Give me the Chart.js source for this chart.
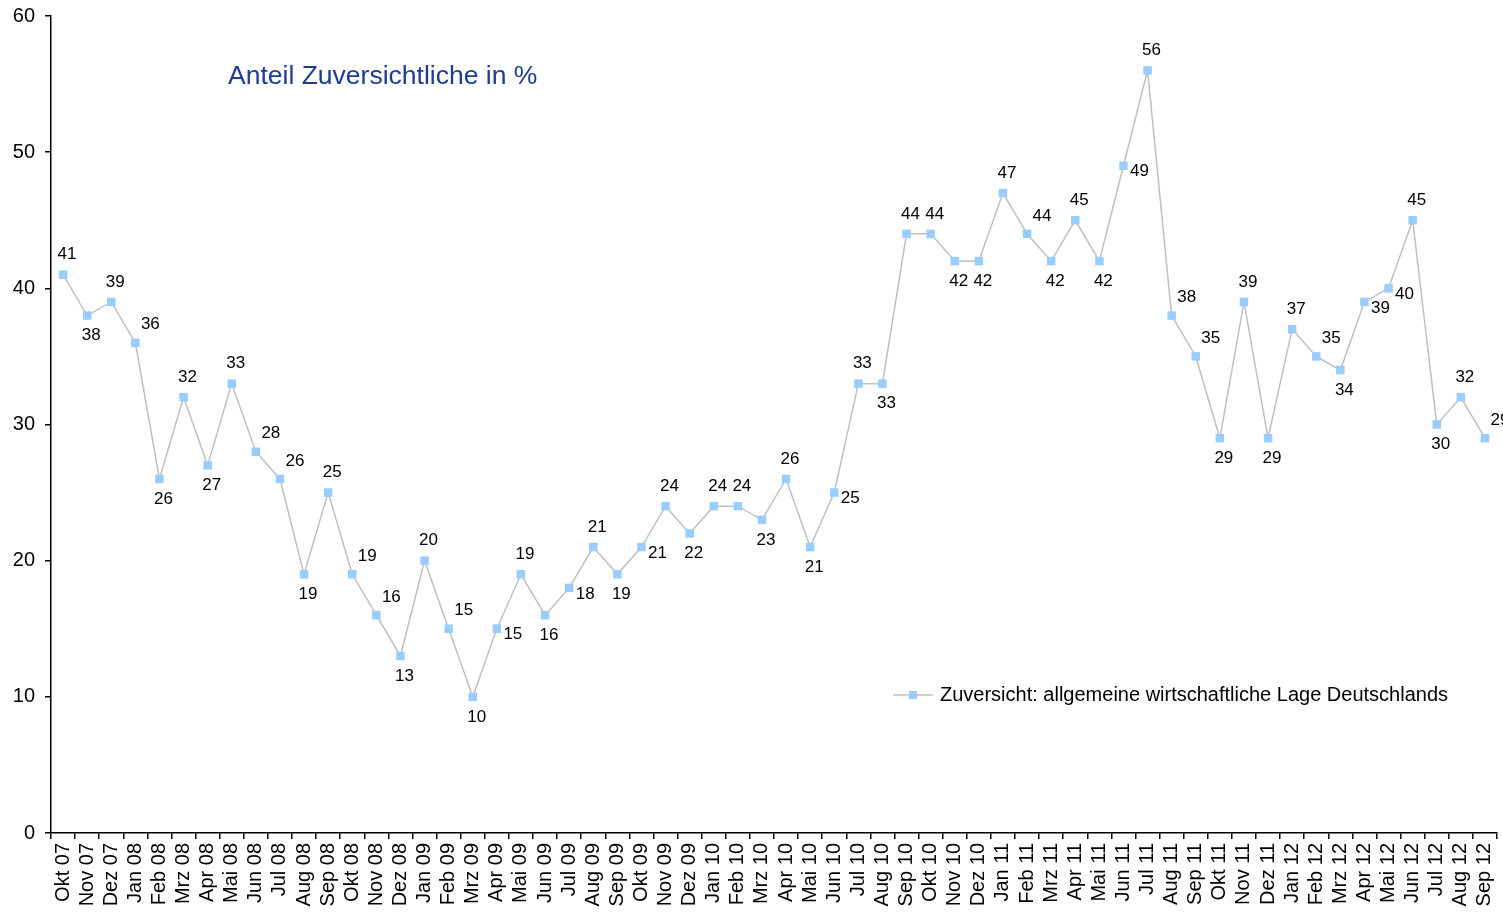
<!DOCTYPE html>
<html>
<head>
<meta charset="utf-8">
<script src="https://cdn.jsdelivr.net/npm/chart.js@4/dist/chart.umd.min.js"></script>
<style>
    html, body { margin: 0; padding: 0; background: #fff; }
    #wrap { width: 1503px; height: 916px; }
</style>
</head>
<body>
<div id="wrap"><canvas id="chart"></canvas></div>
<script>
// Monate Okt 07 - Sep 12
const months = [
    'Okt 07', 'Nov 07', 'Dez 07',
    'Jan 08', 'Feb 08', 'Mrz 08', 'Apr 08', 'Mai 08', 'Jun 08', 'Jul 08', 'Aug 08', 'Sep 08', 'Okt 08', 'Nov 08', 'Dez 08',
    'Jan 09', 'Feb 09', 'Mrz 09', 'Apr 09', 'Mai 09', 'Jun 09', 'Jul 09', 'Aug 09', 'Sep 09', 'Okt 09', 'Nov 09', 'Dez 09',
    'Jan 10', 'Feb 10', 'Mrz 10', 'Apr 10', 'Mai 10', 'Jun 10', 'Jul 10', 'Aug 10', 'Sep 10', 'Okt 10', 'Nov 10', 'Dez 10',
    'Jan 11', 'Feb 11', 'Mrz 11', 'Apr 11', 'Mai 11', 'Jun 11', 'Jul 11', 'Aug 11', 'Sep 11', 'Okt 11', 'Nov 11', 'Dez 11',
    'Jan 12', 'Feb 12', 'Mrz 12', 'Apr 12', 'Mai 12', 'Jun 12', 'Jul 12', 'Aug 12', 'Sep 12'
];

// Anteil Zuversichtliche in %
const zuversicht = [
    41, 38, 39,
    36, 26, 32, 27, 33, 28, 26, 19, 25, 19, 16, 13,
    20, 15, 10, 15, 19, 16, 18, 21, 19, 21, 24, 22,
    24, 24, 23, 26, 21, 25, 33, 33, 44, 44, 42, 42,
    47, 44, 42, 45, 42, 49, 56, 38, 35, 29, 39, 29,
    37, 35, 34, 39, 40, 45, 30, 32, 29
];

const yTicks = [0, 10, 20, 30, 40, 50, 60];

const seriesLabel = 'Zuversicht: allgemeine wirtschaftliche Lage Deutschlands';
const titleText = 'Anteil Zuversichtliche in %';

const FONT = '"Liberation Sans", Arial, sans-serif';
const LINE_COLOR = '#c0c0c0';
const POINT_COLOR = '#99ccff';

// Datenbeschriftungen: Spitze oben, Tal unten, sonst seitlich
const labelPlugin = {
    id: 'valueLabels',
    afterDatasetsDraw(chart) {
        const ctx = chart.ctx;
        const meta = chart.getDatasetMeta(0);
        const vals = chart.data.datasets[0].data;
        ctx.save();
        ctx.font = '17px ' + FONT;
        ctx.fillStyle = '#000';
        ctx.textAlign = 'center';
        ctx.textBaseline = 'middle';
        meta.data.forEach((pt, i) => {
            const v = vals[i];
            const prev = i > 0 ? vals[i - 1] : v;
            const next = i < vals.length - 1 ? vals[i + 1] : (v < prev ? -Infinity : v);
            let dx = 4, dy = 0;
            if (v >= prev && v >= next) {
                dy = -20;
            } else if (v <= prev && v <= next) {
                dy = 20;
            } else if (v < prev) {
                dx = 15; dy = -18;
            } else {
                dx = 16; dy = 6;
            }
            ctx.fillText(String(v), pt.x + dx, pt.y + dy);
        });
        ctx.restore();
    }
};

// Titel und Legende innerhalb der Zeichenfläche
const overlayPlugin = {
    id: 'overlay',
    afterDraw(chart) {
        const ctx = chart.ctx;
        ctx.save();
        ctx.font = '26.5px ' + FONT;
        ctx.fillStyle = '#1f3b94';
        ctx.textAlign = 'left';
        ctx.textBaseline = 'middle';
        ctx.fillText(titleText, 228, 77);

        // Legende
        const ly = 695, lx = 893;
        ctx.strokeStyle = LINE_COLOR;
        ctx.lineWidth = 1.5;
        ctx.beginPath();
        ctx.moveTo(lx, ly);
        ctx.lineTo(lx + 40, ly);
        ctx.stroke();
        ctx.fillStyle = POINT_COLOR;
        ctx.fillRect(lx + 16, ly - 4, 8, 8);
        ctx.fillStyle = '#000';
        ctx.font = '20px ' + FONT;
        ctx.fillText(chart.data.datasets[0].label, lx + 47, ly);
        ctx.restore();
    }
};

new Chart(document.getElementById('chart'), {
    type: 'line',
    data: {
        labels: months,
        datasets: [{
            label: seriesLabel,
            data: zuversicht,
            borderColor: LINE_COLOR,
            borderWidth: 1.5,
            backgroundColor: POINT_COLOR,
            pointBackgroundColor: POINT_COLOR,
            pointBorderWidth: 0,
            pointStyle: 'rect',
            pointRadius: 6,
            tension: 0,
            clip: false
        }]
    },
    options: {
        responsive: true,
        maintainAspectRatio: false,
        animation: false,
        layout: { padding: { top: 16, right: -6, left: 0, bottom: 0 } },
        plugins: {
            legend: { display: false },
            tooltip: { enabled: false }
        },
        scales: {
            x: {
                type: 'category',
                offset: true,
                afterFit: (scale) => {
                    scale.height = 83;
                    scale.paddingLeft = 0;
                    scale.paddingRight = 0;
                },
                grid: {
                    offset: true,
                    drawOnChartArea: false,
                    color: '#000',
                    lineWidth: 1.5,
                    tickLength: 6
                },
                border: { color: '#000', width: 1.5 },
                ticks: {
                    autoSkip: false,
                    maxRotation: 90,
                    minRotation: 90,
                    padding: 4,
                    color: '#000',
                    font: { family: FONT, size: 20 }
                }
            },
            y: {
                min: 0,
                max: 60,
                afterFit: (scale) => {
                    scale.width = 51;
                    scale.paddingTop = 0;
                    scale.paddingBottom = 0;
                },
                afterBuildTicks: (scale) => { scale.ticks = yTicks.map(v => ({ value: v })); },
                grid: {
                    drawOnChartArea: false,
                    color: '#000',
                    lineWidth: 1.5,
                    tickLength: 6
                },
                border: { color: '#000', width: 1.5 },
                ticks: {
                    padding: 10,
                    color: '#000',
                    font: { family: FONT, size: 20 }
                }
            }
        }
    },
    plugins: [labelPlugin, overlayPlugin]
});
</script>
</body>
</html>
